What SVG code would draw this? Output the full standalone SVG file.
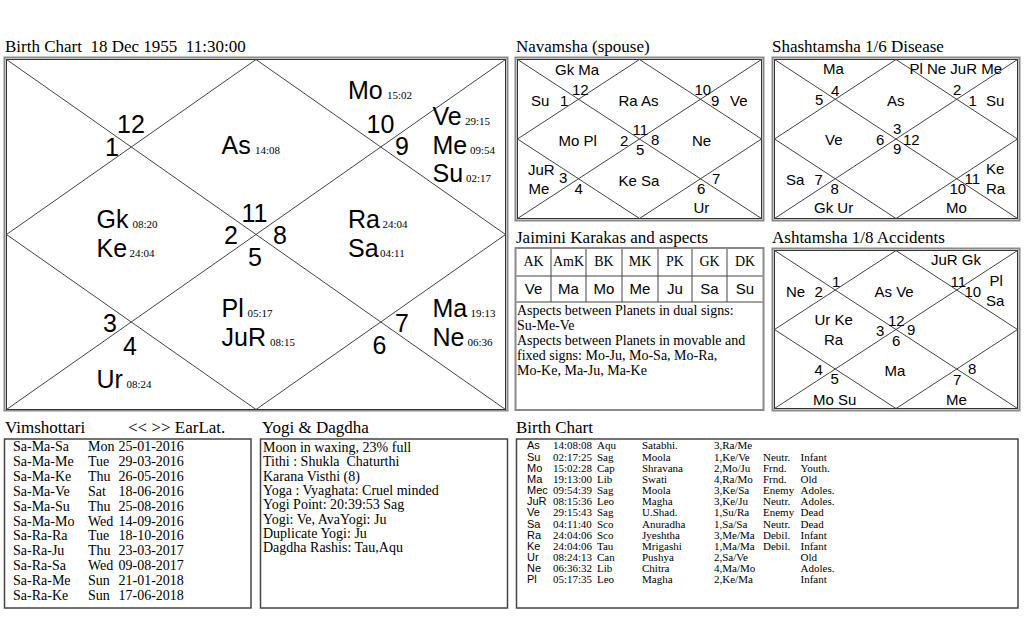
<svg xmlns="http://www.w3.org/2000/svg" width="1024" height="640" viewBox="0 0 1024 640">
<style>
text{white-space:pre;fill:#000}
.title{font-family:"Liberation Serif",serif;font-size:17px}
.big{font-family:"Liberation Sans",sans-serif;font-size:25px}
.deg{font-family:"Liberation Serif",serif;font-size:11px}
.dv{font-family:"Liberation Sans",sans-serif;font-size:15px}
.txt{font-family:"Liberation Serif",serif;font-size:14px}
.th{font-family:"Liberation Serif",serif;font-size:14px;text-anchor:middle}
.td{font-family:"Liberation Sans",sans-serif;font-size:15px;text-anchor:middle}
.tb{font-family:"Liberation Serif",serif;font-size:11px}
.tbs{font-family:"Liberation Sans",sans-serif;font-size:11px}
.frame{fill:none;stroke:#8a8a8a;stroke-width:2}
.inner{fill:none;stroke:#333;stroke-width:1}
.ln{fill:none;stroke:#444;stroke-width:1}
.box{fill:none;stroke:#444;stroke-width:1.5}
</style>
<rect width="1024" height="640" fill="#fff"/>

<g id="main-chart">
<text class="title" x="5" y="52">Birth Chart  18 Dec 1955  11:30:00</text>
<rect class="frame" x="4.5" y="57.5" width="503" height="353"/>
<rect class="inner" x="6.5" y="59.5" width="499" height="350"/>
<g id="main-lines" class="ln">
<line x1="6.5" y1="59.5" x2="505.5" y2="409.5"/>
<line x1="505.5" y1="59.5" x2="6.5" y2="409.5"/>
<polygon points="256,59.5 505.5,234.5 256,409.5 6.5,234.5"/>
</g>
<text class="big" x="117" y="133">12</text>
<text class="big" x="105" y="156">1</text>
<text class="big" x="366.5" y="133">10</text>
<text class="big" x="395" y="155">9</text>
<text class="big" x="241.5" y="222">11</text>
<text class="big" x="224" y="244">2</text>
<text class="big" x="273" y="244">8</text>
<text class="big" x="248" y="266">5</text>
<text class="big" x="103" y="332">3</text>
<text class="big" x="123" y="355">4</text>
<text class="big" x="395" y="332">7</text>
<text class="big" x="372.5" y="354">6</text>
<text class="big" x="348" y="99">Mo</text><text class="deg" x="387" y="99">15:02</text>
<text class="big" x="221.5" y="154">As</text><text class="deg" x="255" y="154">14:08</text>
<text class="big" x="432.5" y="125">Ve</text><text class="deg" x="465" y="125">29:15</text>
<text class="big" x="432.5" y="154">Me</text><text class="deg" x="470" y="154">09:54</text>
<text class="big" x="432.5" y="182">Su</text><text class="deg" x="466" y="182">02:17</text>
<text class="big" x="96.5" y="228">Gk</text><text class="deg" x="132.5" y="228">08:20</text>
<text class="big" x="96.5" y="257">Ke</text><text class="deg" x="129.5" y="257">24:04</text>
<text class="big" x="348" y="228">Ra</text><text class="deg" x="382.5" y="228">24:04</text>
<text class="big" x="348" y="257">Sa</text><text class="deg" x="380" y="257">04:11</text>
<text class="big" x="221.5" y="317">Pl</text><text class="deg" x="247.5" y="317">05:17</text>
<text class="big" x="221.5" y="346">JuR</text><text class="deg" x="270" y="346">08:15</text>
<text class="big" x="432.5" y="317">Ma</text><text class="deg" x="470.5" y="317">19:13</text>
<text class="big" x="432.5" y="346">Ne</text><text class="deg" x="467.5" y="346">06:36</text>
<text class="big" x="96.5" y="388">Ur</text><text class="deg" x="126.5" y="388">08:24</text>
</g>

<g id="navamsha">
<text class="title" x="516" y="52">Navamsha (spouse)</text>
<rect class="frame" x="515.5" y="57.5" width="248" height="163"/>
<rect class="inner" x="517.5" y="59.5" width="244" height="159"/>
<g class="ln">
<line x1="517.5" y1="59.5" x2="761.5" y2="218.5"/>
<line x1="761.5" y1="59.5" x2="517.5" y2="218.5"/>
<polygon points="639.5,59.5 761.5,139 639.5,218.5 517.5,139"/>
</g>
<text class="dv" x="555" y="75">Gk Ma</text>
<text class="dv" x="572" y="95">12</text>
<text class="dv" x="560" y="106">1</text>
<text class="dv" x="531" y="106">Su</text>
<text class="dv" x="618.5" y="106">Ra As</text>
<text class="dv" x="694.5" y="95">10</text>
<text class="dv" x="711" y="106">9</text>
<text class="dv" x="730" y="106">Ve</text>
<text class="dv" x="558.5" y="146">Mo Pl</text>
<text class="dv" x="620" y="146">2</text>
<text class="dv" x="632.5" y="135">11</text>
<text class="dv" x="651" y="145">8</text>
<text class="dv" x="636" y="155">5</text>
<text class="dv" x="692" y="146">Ne</text>
<text class="dv" x="528" y="175">JuR</text>
<text class="dv" x="528.5" y="194">Me</text>
<text class="dv" x="559" y="183">3</text>
<text class="dv" x="574.5" y="194">4</text>
<text class="dv" x="618.5" y="186">Ke Sa</text>
<text class="dv" x="712" y="184">7</text>
<text class="dv" x="697" y="194">6</text>
<text class="dv" x="693.5" y="213">Ur</text>
</g>

<g id="shashtamsha">
<text class="title" x="772" y="52">Shashtamsha 1/6 Disease</text>
<rect class="frame" x="772.5" y="57.5" width="247" height="163"/>
<rect class="inner" x="774.5" y="59.5" width="243" height="159"/>
<g class="ln">
<line x1="774.5" y1="59.5" x2="1017.5" y2="218.5"/>
<line x1="1017.5" y1="59.5" x2="774.5" y2="218.5"/>
<polygon points="896,59.5 1017.5,139 896,218.5 774.5,139"/>
</g>
<text class="dv" x="823" y="74">Ma</text>
<text class="dv" x="831" y="96">4</text>
<text class="dv" x="815" y="105">5</text>
<text class="dv" x="887" y="106">As</text>
<text class="dv" x="909.5" y="74">Pl Ne JuR Me</text>
<text class="dv" x="953" y="95">2</text>
<text class="dv" x="968.5" y="106">1</text>
<text class="dv" x="986" y="106">Su</text>
<text class="dv" x="825" y="145">Ve</text>
<text class="dv" x="876" y="145">6</text>
<text class="dv" x="893" y="134">3</text>
<text class="dv" x="903" y="145">12</text>
<text class="dv" x="893" y="154">9</text>
<text class="dv" x="786" y="185">Sa</text>
<text class="dv" x="814.5" y="185">7</text>
<text class="dv" x="830.5" y="194">8</text>
<text class="dv" x="814" y="213">Gk Ur</text>
<text class="dv" x="986" y="174">Ke</text>
<text class="dv" x="964.5" y="184">11</text>
<text class="dv" x="949.5" y="194">10</text>
<text class="dv" x="986" y="194">Ra</text>
<text class="dv" x="946" y="213">Mo</text>
</g>

<g id="jaimini">
<text class="title" x="516" y="243">Jaimini Karakas and aspects</text>
<rect class="frame" x="515.5" y="248" width="248" height="162"/>
<g class="ln">
<line x1="516.5" y1="276" x2="762.5" y2="276"/>
<line x1="516.5" y1="302" x2="762.5" y2="302"/>
<line x1="551" y1="249" x2="551" y2="302"/>
<line x1="586" y1="249" x2="586" y2="302"/>
<line x1="622" y1="249" x2="622" y2="302"/>
<line x1="658" y1="249" x2="658" y2="302"/>
<line x1="692" y1="249" x2="692" y2="302"/>
<line x1="727" y1="249" x2="727" y2="302"/>
</g>
<text class="th" x="533.5" y="266">AK</text>
<text class="th" x="568.5" y="266">AmK</text>
<text class="th" x="604" y="266">BK</text>
<text class="th" x="640" y="266">MK</text>
<text class="th" x="675" y="266">PK</text>
<text class="th" x="709.5" y="266">GK</text>
<text class="th" x="745" y="266">DK</text>
<text class="td" x="533.5" y="294">Ve</text>
<text class="td" x="568.5" y="294">Ma</text>
<text class="td" x="604" y="294">Mo</text>
<text class="td" x="640" y="294">Me</text>
<text class="td" x="675" y="294">Ju</text>
<text class="td" x="709.5" y="294">Sa</text>
<text class="td" x="745" y="294">Su</text>
<text class="txt" x="517" y="315">Aspects between Planets in dual signs:</text>
<text class="txt" x="517" y="330">Su-Me-Ve</text>
<text class="txt" x="517" y="345">Aspects between Planets in movable and</text>
<text class="txt" x="517" y="360">fixed signs: Mo-Ju, Mo-Sa, Mo-Ra,</text>
<text class="txt" x="517" y="375">Mo-Ke, Ma-Ju, Ma-Ke</text>
</g>

<g id="ashtamsha">
<text class="title" x="772" y="243">Ashtamsha 1/8 Accidents</text>
<rect class="frame" x="772.5" y="248.5" width="247" height="162"/>
<rect class="inner" x="774.5" y="250.5" width="243" height="158"/>
<g class="ln">
<line x1="774.5" y1="250.5" x2="1017.5" y2="408.5"/>
<line x1="1017.5" y1="250.5" x2="774.5" y2="408.5"/>
<polygon points="896,250.5 1017.5,329.5 896,408.5 774.5,329.5"/>
</g>
<text class="dv" x="931" y="265">JuR Gk</text>
<text class="dv" x="832" y="287">1</text>
<text class="dv" x="786" y="297">Ne</text>
<text class="dv" x="814.5" y="297">2</text>
<text class="dv" x="874.5" y="297">As Ve</text>
<text class="dv" x="950.5" y="287">11</text>
<text class="dv" x="964.5" y="297">10</text>
<text class="dv" x="989.5" y="286">Pl</text>
<text class="dv" x="986" y="306">Sa</text>
<text class="dv" x="814.5" y="325">Ur Ke</text>
<text class="dv" x="824" y="345">Ra</text>
<text class="dv" x="888" y="326">12</text>
<text class="dv" x="876" y="336">3</text>
<text class="dv" x="907" y="335">9</text>
<text class="dv" x="892" y="346">6</text>
<text class="dv" x="814.5" y="375">4</text>
<text class="dv" x="830.5" y="384">5</text>
<text class="dv" x="884.5" y="376">Ma</text>
<text class="dv" x="968" y="374">8</text>
<text class="dv" x="953" y="385">7</text>
<text class="dv" x="813" y="405">Mo Su</text>
<text class="dv" x="946" y="405">Me</text>
</g>

<g id="vimshottari">
<text class="title" x="5" y="433">Vimshottari</text>
<text class="title" x="128" y="433">&lt;&lt; &gt;&gt; EarLat.</text>
<rect class="box" x="4.5" y="439" width="246.5" height="169"/>
<g class="txt">
<text x="13" y="451">Sa-Ma-Sa</text><text x="88" y="451">Mon</text><text x="118.5" y="451">25-01-2016</text>
<text x="13" y="465.9">Sa-Ma-Me</text><text x="88" y="465.9">Tue</text><text x="118.5" y="465.9">29-03-2016</text>
<text x="13" y="480.8">Sa-Ma-Ke</text><text x="88" y="480.8">Thu</text><text x="118.5" y="480.8">26-05-2016</text>
<text x="13" y="495.7">Sa-Ma-Ve</text><text x="88" y="495.7">Sat</text><text x="118.5" y="495.7">18-06-2016</text>
<text x="13" y="510.6">Sa-Ma-Su</text><text x="88" y="510.6">Thu</text><text x="118.5" y="510.6">25-08-2016</text>
<text x="13" y="525.5">Sa-Ma-Mo</text><text x="88" y="525.5">Wed</text><text x="118.5" y="525.5">14-09-2016</text>
<text x="13" y="540.4">Sa-Ra-Ra</text><text x="88" y="540.4">Tue</text><text x="118.5" y="540.4">18-10-2016</text>
<text x="13" y="555.3">Sa-Ra-Ju</text><text x="88" y="555.3">Thu</text><text x="118.5" y="555.3">23-03-2017</text>
<text x="13" y="570.2">Sa-Ra-Sa</text><text x="88" y="570.2">Wed</text><text x="118.5" y="570.2">09-08-2017</text>
<text x="13" y="585.1">Sa-Ra-Me</text><text x="88" y="585.1">Sun</text><text x="118.5" y="585.1">21-01-2018</text>
<text x="13" y="600">Sa-Ra-Ke</text><text x="88" y="600">Sun</text><text x="118.5" y="600">17-06-2018</text>
</g>
</g>

<g id="yogi-dagdha">
<text class="title" x="262" y="433">Yogi &amp; Dagdha</text>
<rect class="box" x="260.5" y="439" width="247" height="169"/>
<g class="txt">
<text x="263" y="452">Moon in waxing, 23% full</text>
<text x="263" y="466.3">Tithi : Shukla  Chaturthi</text>
<text x="263" y="480.7">Karana Visthi (8)</text>
<text x="263" y="495">Yoga : Vyaghata: Cruel minded</text>
<text x="263" y="509.4">Yogi Point: 20:39:53 Sag</text>
<text x="263" y="523.7">Yogi: Ve, AvaYogi: Ju</text>
<text x="263" y="538.1">Duplicate Yogi: Ju</text>
<text x="263" y="552.4">Dagdha Rashis: Tau,Aqu</text>
</g>
</g>

<g id="birth-table">
<text class="title" x="516" y="433">Birth Chart</text>
<rect class="box" x="516.5" y="439" width="501.5" height="169"/>
<g class="tbs">
<text x="527" y="449.3">As</text>
<text x="527" y="460.5">Su</text>
<text x="527" y="471.6">Mo</text>
<text x="527" y="482.8">Ma</text>
<text x="527" y="494">Mec</text>
<text x="527" y="505.2">JuR</text>
<text x="527" y="516.3">Ve</text>
<text x="527" y="527.5">Sa</text>
<text x="527" y="538.7">Ra</text>
<text x="527" y="549.8">Ke</text>
<text x="527" y="561">Ur</text>
<text x="527" y="572.2">Ne</text>
<text x="527" y="583.3">Pl</text>
</g>
<g class="tb">
<text x="553" y="449.3">14:08:08</text><text x="597" y="449.3">Aqu</text><text x="642" y="449.3">Satabhi.</text><text x="714" y="449.3">3,Ra/Me</text>
<text x="553" y="460.5">02:17:25</text><text x="597" y="460.5">Sag</text><text x="642" y="460.5">Moola</text><text x="714" y="460.5">1,Ke/Ve</text><text x="763" y="460.5">Neutr.</text><text x="800.5" y="460.5">Infant</text>
<text x="553" y="471.6">15:02:28</text><text x="597" y="471.6">Cap</text><text x="642" y="471.6">Shravana</text><text x="714" y="471.6">2,Mo/Ju</text><text x="763" y="471.6">Frnd.</text><text x="800.5" y="471.6">Youth.</text>
<text x="553" y="482.8">19:13:00</text><text x="597" y="482.8">Lib</text><text x="642" y="482.8">Swati</text><text x="714" y="482.8">4,Ra/Mo</text><text x="763" y="482.8">Frnd.</text><text x="800.5" y="482.8">Old</text>
<text x="553" y="494">09:54:39</text><text x="597" y="494">Sag</text><text x="642" y="494">Moola</text><text x="714" y="494">3,Ke/Sa</text><text x="763" y="494">Enemy</text><text x="800.5" y="494">Adoles.</text>
<text x="553" y="505.2">08:15:36</text><text x="597" y="505.2">Leo</text><text x="642" y="505.2">Magha</text><text x="714" y="505.2">3,Ke/Ju</text><text x="763" y="505.2">Neutr.</text><text x="800.5" y="505.2">Adoles.</text>
<text x="553" y="516.3">29:15:43</text><text x="597" y="516.3">Sag</text><text x="642" y="516.3">U.Shad.</text><text x="714" y="516.3">1,Su/Ra</text><text x="763" y="516.3">Enemy</text><text x="800.5" y="516.3">Dead</text>
<text x="553" y="527.5">04:11:40</text><text x="597" y="527.5">Sco</text><text x="642" y="527.5">Anuradha</text><text x="714" y="527.5">1,Sa/Sa</text><text x="763" y="527.5">Neutr.</text><text x="800.5" y="527.5">Dead</text>
<text x="553" y="538.7">24:04:06</text><text x="597" y="538.7">Sco</text><text x="642" y="538.7">Jyeshtha</text><text x="714" y="538.7">3,Me/Ma</text><text x="763" y="538.7">Debil.</text><text x="800.5" y="538.7">Infant</text>
<text x="553" y="549.8">24:04:06</text><text x="597" y="549.8">Tau</text><text x="642" y="549.8">Mrigashi</text><text x="714" y="549.8">1,Ma/Ma</text><text x="763" y="549.8">Debil.</text><text x="800.5" y="549.8">Infant</text>
<text x="553" y="561">08:24:13</text><text x="597" y="561">Can</text><text x="642" y="561">Pushya</text><text x="714" y="561">2,Sa/Ve</text><text x="800.5" y="561">Old</text>
<text x="553" y="572.2">06:36:32</text><text x="597" y="572.2">Lib</text><text x="642" y="572.2">Chitra</text><text x="714" y="572.2">4,Ma/Mo</text><text x="800.5" y="572.2">Adoles.</text>
<text x="553" y="583.3">05:17:35</text><text x="597" y="583.3">Leo</text><text x="642" y="583.3">Magha</text><text x="714" y="583.3">2,Ke/Ma</text><text x="800.5" y="583.3">Infant</text>
</g>
</g>
</svg>
